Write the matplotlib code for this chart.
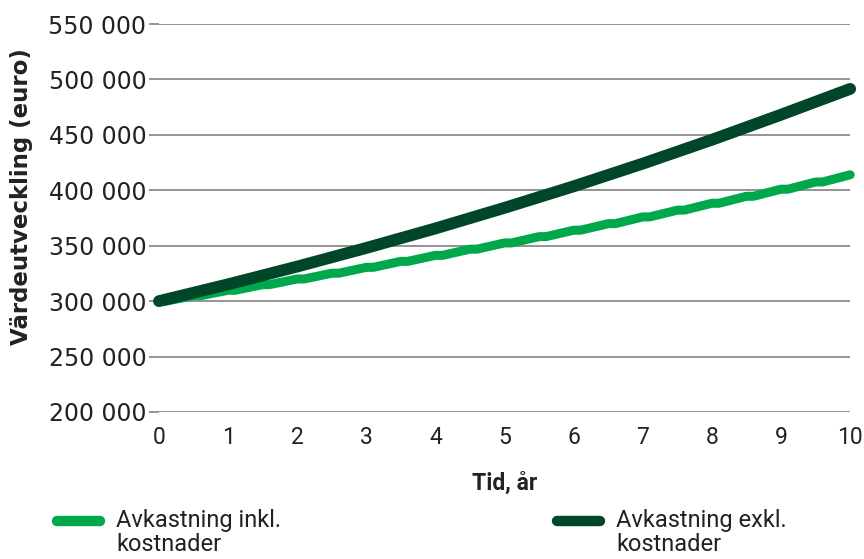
import numpy as np
import matplotlib.pyplot as plt
from matplotlib.lines import Line2D
from matplotlib.legend_handler import HandlerLine2D

# Data (in euro)
years = [0, 1, 2, 3, 4, 5, 6, 7, 8, 9, 10]
excl_costs = [300000, 315200, 331200, 348000, 365600, 384200, 403600, 424100, 445600, 468200, 491500]

# half-yearly series with a short flat step after each node
incl_t = [0, 0.1, 0.5, 0.6, 1.0, 1.1, 1.5, 1.6, 2.0, 2.1, 2.5, 2.6, 3.0, 3.1, 3.5, 3.6,
          4.0, 4.1, 4.5, 4.6, 5.0, 5.1, 5.5, 5.6, 6.0, 6.1, 6.5, 6.6, 7.0, 7.1, 7.5, 7.6,
          8.0, 8.1, 8.5, 8.6, 9.0, 9.1, 9.5, 9.6, 10.0]
incl_costs = [300000, 300000, 304900, 304900, 309800, 309800, 314900, 314900, 320000, 320000,
              325200, 325200, 330500, 330500, 335900, 335900, 341300, 341300, 346900, 346900,
              352500, 352500, 358200, 358200, 364000, 364000, 369900, 369900, 376000, 376000,
              382100, 382100, 388300, 388300, 394600, 394600, 401000, 401000, 407500, 407500,
              414000]

yticks = [200000, 250000, 300000, 350000, 400000, 450000, 500000, 550000]
ytick_labels = ['200 000', '250 000', '300 000', '350 000', '400 000', '450 000', '500 000', '550 000']
labels = ['Avkastning inkl.\nkostnader', 'Avkastning exkl.\nkostnader']

colors = {'light': '#00a84c', 'dark': '#00472a'}
narrow = ['Roboto', 'DejaVu Sans']
txt = '#222222'


class TopLineHandler(HandlerLine2D):
    # put the legend line level with the first text line
    def create_artists(self, legend, orig_handle, xdescent, ydescent, width, height, fontsize, trans):
        arts = super().create_artists(legend, orig_handle, xdescent, ydescent, width, height, fontsize, trans)
        for a in arts:
            a.set_ydata(np.asarray(a.get_ydata()) + 0.52 * fontsize)
        return arts


fig = plt.figure(figsize=(8.64, 5.59), dpi=100)
ax = fig.add_axes([0.184, 0.263, 0.800, 0.694])

ax.plot(incl_t, incl_costs, color=colors['light'], lw=6.5, solid_capstyle='round',
        solid_joinstyle='round', clip_on=False, zorder=3)
ax.plot(years, excl_costs, color=colors['dark'], lw=8.5, solid_capstyle='round',
        clip_on=False, zorder=4)

ax.set_xlim(0, 10)
ax.set_ylim(200000, 550000)
ax.set_xticks(years)
ax.set_xticklabels([str(y) for y in years], fontsize=16.5, family=narrow, color=txt)
ax.set_yticks(yticks)
ax.set_yticklabels(ytick_labels, fontsize=17, family='DejaVu Sans', color=txt)
ax.tick_params(axis='x', length=0, pad=10)
ax.tick_params(axis='y', length=7, width=1.1, color='#777777', pad=2)

ax.grid(axis='y', color='#777777', lw=1.1)
ax.set_axisbelow(True)
for s in ax.spines.values():
    s.set_visible(False)

ax.set_ylabel('Värdeutveckling (euro)', fontsize=16.5, fontweight='bold', color=txt)
ax.yaxis.set_label_coords(-0.182, 0.554)
ax.set_xlabel('Tid, år', fontsize=16.5, fontweight='bold', family=narrow, color=txt, labelpad=16)

# Legend: two separate entries placed under the chart
h1 = Line2D([], [], color=colors['light'], lw=7.5, solid_capstyle='round')
h2 = Line2D([], [], color=colors['dark'], lw=7.5, solid_capstyle='round')
for h, lab, x in [(h1, labels[0], 0.066), (h2, labels[1], 0.645)]:
    leg = fig.legend([h], [lab], loc='upper left', bbox_to_anchor=(x, 0.09), frameon=False,
                     handlelength=1.8, handletextpad=0.7, borderaxespad=0, borderpad=0,
                     prop={'family': narrow, 'size': 17}, labelcolor=txt,
                     handler_map={Line2D: TopLineHandler()})
    for t in leg.get_texts():
        t.set_linespacing(1.05)

fig.savefig('out.png', dpi=100)
